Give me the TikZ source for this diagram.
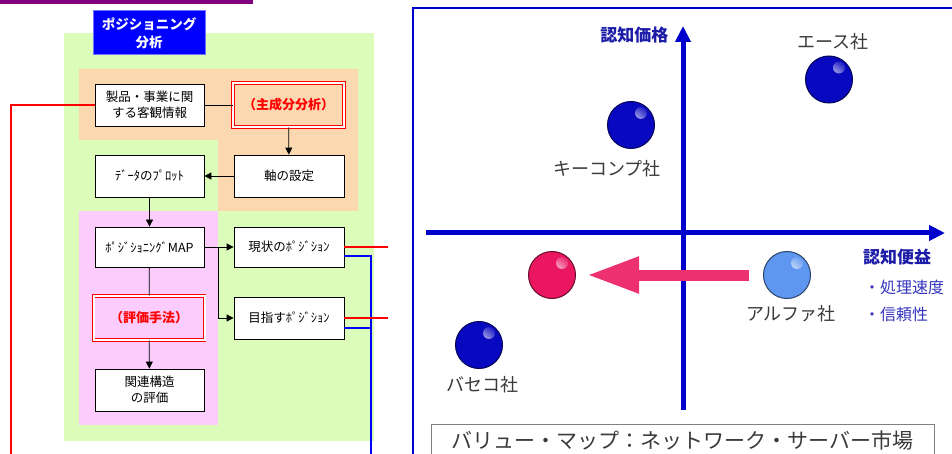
\documentclass[tikz,border=0pt]{standalone}
\usepackage{fontspec}
\setmainfont{Noto Sans CJK JP}
\usetikzlibrary{arrows.meta}
\definecolor{purplebar}{HTML}{800080}
\definecolor{greenbg}{HTML}{DCFCBA}
\definecolor{orangebg}{HTML}{FCD8B0}
\definecolor{pinkbg}{HTML}{FCCCFC}
\definecolor{axisblue}{HTML}{0000CC}
\definecolor{labelblue}{HTML}{1C1CA8}
\definecolor{itemblue}{HTML}{3535C0}
\definecolor{sphblue}{HTML}{0808C0}
\definecolor{sphred}{HTML}{EA1760}
\definecolor{sphlight}{HTML}{5F96F0}
\definecolor{pinkarrow}{HTML}{EC3070}
\definecolor{txtgray}{HTML}{3A3A3A}
\tikzset{
  flowbox/.style={draw=black, line width=0.8pt, fill=white, minimum width=109pt, minimum height=42pt,
    align=center, inner sep=1pt, font=\fontsize{12.5}{16}\selectfont},
  methodbox/.style={draw=red, double=white, double distance=2pt, line width=0.8pt,
    minimum width=111pt, minimum height=44pt, text=red, align=center,
    font=\fontsize{13}{16}\selectfont\bfseries},
  conn/.style={draw=black, line width=0.8pt},
  arr/.style={conn, -{Triangle[length=7pt,width=7pt]}},
  redline/.style={draw=red, line width=2pt},
  blueline/.style={draw=blue, line width=2pt},
  axisline/.style={draw=axisblue, line width=5pt, -{Triangle[length=16pt,width=15pt]}},
  sphere/.style={circle, minimum size=47pt, inner sep=0pt, draw=#1!45!black, line width=1pt,
    fill=#1,
    path picture={\shade[inner color=white, outer color=#1]
      ([xshift=10pt,yshift=12pt]path picture bounding box.center) circle (6pt);}},
  comp/.style={text=txtgray, font=\fontsize{18}{20}\selectfont},
  axlabel/.style={text=labelblue, font=\fontsize{17}{20}\selectfont\bfseries},
  item/.style={text=itemblue, font=\fontsize{16}{20}\selectfont, anchor=west, inner sep=0pt}
}
\begin{document}
\begin{tikzpicture}[x=1pt,y=-1pt]
\useasboundingbox (0,0) rectangle (952,454);
\clip (0,0) rectangle (952,454);
\fill[white] (0,0) rectangle (952,454);
% top bar
\fill[purplebar] (0,0) rectangle (253,4.5);
% background regions
\fill[greenbg] (64,33) rectangle (374,441);
\fill[orangebg] (79,69) -- (358,69) -- (358,211) -- (218,211) -- (218,140) -- (79,140) -- cycle;
\fill[pinkbg] (79,211) rectangle (218,425);
% title
\node[fill=blue, draw=blue!55!white, line width=1pt, minimum width=112pt, minimum height=44pt,
  text=white, align=center, font=\fontsize{13.5}{18}\selectfont\bfseries] (title) at (149,33) {ポジショニング\\分析};
% flow boxes
\node[flowbox] (info) at (149.5,105) {製品・事業に関\\する客観情報};
\node[methodbox] (pca) at (288.5,105) {（主成分分析）};
\node[flowbox, minimum width=110pt] (axis) at (289,176) {軸の設定};
\node[flowbox] (plot) at (149.5,176) {ﾃﾞｰﾀのﾌﾟﾛｯﾄ};
\node[flowbox, minimum height=40pt] (map) at (149.5,247) {ﾎﾟｼﾞｼｮﾆﾝｸﾞMAP};
\node[flowbox, minimum width=110pt, minimum height=40pt] (now) at (289,247) {現状のﾎﾟｼﾞｼｮﾝ};
\node[flowbox, minimum width=110pt] (goal) at (289,318) {目指すﾎﾟｼﾞｼｮﾝ};
\node[methodbox] (evalm) at (149,318) {（評価手法）};
\node[flowbox] (rel) at (149.5,390) {関連構造\\の評価};
% connectors
\draw[conn] (info) -- (pca);
\draw[arr] (pca) -- (axis);
\draw[arr] (axis) -- (plot);
\draw[arr] (plot) -- (map);
\draw[arr] (map) -- (now);
\coordinate (br) at (218,247);
\draw[arr] (br) |- (goal.west);
\draw[conn] (map) -- (evalm);
\draw[arr] (evalm) -- (rel);
% outgoing lines
\coordinate (redend) at (10.5,456);
\draw[redline] (info.west) -| (redend);
\coordinate (nowred) at (388,247);
\coordinate (goalred) at (388,318);
\coordinate (bluebot) at (371,456);
\draw[blueline] ([yshift=-9pt]now.east) -| (bluebot);
\draw[blueline] ([yshift=-10pt]goal.east) -- (371,328);
\draw[redline] (now.east) -- (nowred);
\draw[redline] (goal.east) -- (goalred);
% right panel
\draw[axisblue, line width=2pt] (413,8.5) rectangle (965,470);
\coordinate (vbot) at (683,410);
\coordinate (vtop) at (683,26);
\coordinate (hleft) at (426,233);
\coordinate (hright) at (945,233);
\draw[axisline] (vbot) -- (vtop);
\draw[axisline] (hleft) -- (hright);
\node[axlabel, anchor=east] (ylab) at (672,35) {認知価格};
\node[axlabel, anchor=west, inner sep=0pt] (xlab) at (863,257) {認知便益};
\node[item] (i1) at (864,287) {・処理速度};
\node[item] (i2) at (864,314) {・信頼性};
% spheres
\node[sphere=sphblue] (ace) at (829,79.5) {};
\node[sphere=sphblue] (key) at (631,125) {};
\node[sphere=sphred] (target) at (552,275) {};
\node[sphere=sphlight] (alpha) at (787,275) {};
\node[sphere=sphblue] (baseco) at (479,345) {};
\node[comp] (acel) at (833,42) {エース社};
\node[comp] (keyl) at (607,169) {キーコンプ社};
\node[comp] (alphal) at (791,314) {アルファ社};
\node[comp] (basecol) at (482,385) {バセコ社};
% move arrow
\draw[draw=pinkarrow, line width=11pt, -{Triangle[length=52pt,width=34pt]}] ([xshift=-14pt]alpha.west) -- ([xshift=11pt]target.east);
% caption
\node[draw=gray, line width=1pt, fill=white, minimum width=503pt, minimum height=33pt,
  text=txtgray, font=\fontsize{21}{24}\selectfont] (cap) at (682.5,440.5) {バリュー・マップ：ネットワーク・サーバー市場};
\end{tikzpicture}
\end{document}
